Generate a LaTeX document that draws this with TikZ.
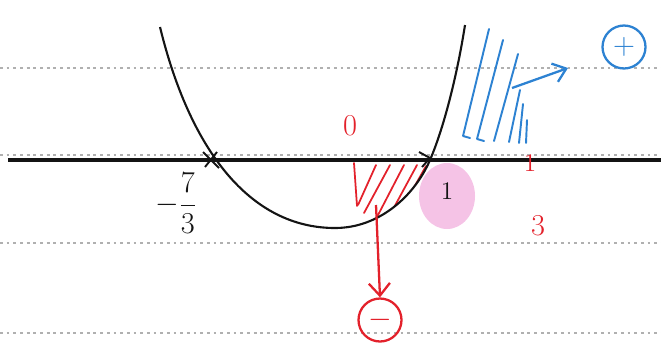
\documentclass[tikz,border=0pt]{standalone}
\usetikzlibrary{positioning,arrows.meta}
\definecolor{cInk}{HTML}{141414}
\definecolor{cRed}{HTML}{E3212B}
\definecolor{cBlue}{HTML}{2D82D2}
\definecolor{cPink}{HTML}{F5C3E6}
\definecolor{cRule}{HTML}{B0B0B0}

\begin{document}
\begin{tikzpicture}[x=0.02cm,y=-0.02cm,
    ruleline/.style={cRule,line width=1.3pt,dash pattern=on 1.6pt off 2.2pt},
    hatchRed/.style={cRed,line width=1pt,line cap=round},
    hatchBlue/.style={cBlue,line width=1.1pt,line cap=round},
    signbox/.style={circle,draw,line width=1.3pt,inner sep=0pt,minimum size=0.86cm,font=\LARGE\bfseries}]
  \useasboundingbox (0,0) rectangle (661,342);
  % ruled paper
  \draw[ruleline] (0,68) -- (661,68);
  \draw[ruleline] (0,155) -- (661,155);
  \draw[ruleline] (0,243) -- (661,243);
  \draw[ruleline] (0,333) -- (661,333);
  % pink mark round the root 1
  \fill[cPink] (447,196) ellipse [x radius=28,y radius=33];
  % red hatching, negative part (kept inside the curve)
  \begin{scope}
    \clip (160,27) .. controls (190,150) and (250,228) .. (335,228)
      .. controls (380,228) and (415,195) .. (430,160)
      .. controls (445,125) and (458,70) .. (465,25) -- cycle;
    \draw[hatchRed] (354,163) -- (357,206) (358,205) -- (376,165) (364,213) -- (390,165)
      (377,217) -- (404,165) (391,213) -- (417,165) (403,207) -- (426,166);
  \end{scope}
  % blue hatching, positive part
  \draw[hatchBlue] (463,136) -- (489,29) (463,136) -- (470,138)
    (477,139) -- (503,40) (477,139) -- (484,141)
    (494,141) -- (518,54) (509,142) -- (520,90)
    (519,143) -- (523,104) (526,143) -- (527,120);
  % x-axis and curve
  \draw[cInk,line width=2pt] (8,160) -- (661,160);
  \draw[cInk,line width=1.2pt] (160,27) .. controls (190,150) and (250,228) .. (335,228)
    .. controls (380,228) and (415,195) .. (430,160)
    .. controls (445,125) and (458,70) .. (465,25);
  \draw[cInk,line width=1.1pt] (203,152) -- (219,168) (217,152) -- (205,167);
  \draw[cInk,line width=1.1pt] (419,152) -- (430,158) -- (422,167);
  % labels
  \node[cInk,font=\LARGE] (rootA) at (176,203) {$-\displaystyle\frac{7}{3}$};
  \node[cInk,font=\Large] (rootB) at (447,191) {1};
  \node[cRed,font=\LARGE] (zero) at (350,126) {0};
  \node[cRed,font=\Large] (thirdTop) at (530,163) {1};
  \node[cRed,font=\LARGE] (thirdBot) at (538,226) {3};
  \node[signbox,cRed] (minus) at (380,320) {$-$};
  \node[signbox,cBlue] (plus) at (624,47) {$+$};
  \coordinate (negStart) at (376,205);
  \coordinate (posStart) at (512,88);
  \coordinate (posEnd) at (568,68);
  \draw[cRed,line width=1.3pt,-{Straight Barb[length=7pt,width=12pt]}] (negStart) -- (minus.north);
  \draw[cBlue,line width=1.3pt,-{Straight Barb[length=7pt,width=11pt]}] (posStart) -- (posEnd);
\end{tikzpicture}
\end{document}
